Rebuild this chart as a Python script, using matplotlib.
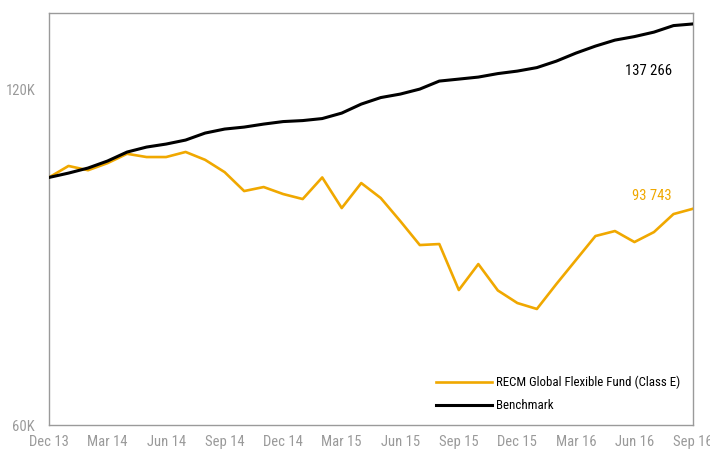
import matplotlib
matplotlib.use("Agg")
import matplotlib.pyplot as plt
from matplotlib import font_manager
from matplotlib.ticker import FixedLocator, NullLocator

# ---- data ----
months = ["Dec 13", "Jan 14", "Feb 14", "Mar 14", "Apr 14", "May 14", "Jun 14", "Jul 14",
          "Aug 14", "Sep 14", "Oct 14", "Nov 14", "Dec 14", "Jan 15", "Feb 15", "Mar 15",
          "Apr 15", "May 15", "Jun 15", "Jul 15", "Aug 15", "Sep 15", "Oct 15", "Nov 15",
          "Dec 15", "Jan 16", "Feb 16", "Mar 16", "Apr 16", "May 16", "Jun 16", "Jul 16",
          "Aug 16", "Sep 16"]
fund = [100000, 102400, 101500, 103000, 105000, 104300, 104300, 105400,
        103700, 101100, 97230, 98040, 96630, 95640, 100000, 93880,
        98850, 95840, 91390, 86980, 87160, 79270, 83630, 79200,
        77170, 76230, 80260, 84330, 88610, 89530, 87520, 89340,
        92720, 93743]
benchmark = [100000, 100900, 101960, 103450, 105380, 106470, 107130, 108020,
             109590, 110500, 110950, 111640, 112220, 112450, 112920, 114200,
             116340, 117920, 118770, 120000, 122000, 122500, 123010, 123900,
             124540, 125440, 127130, 129250, 131130, 132760, 133730, 134970,
             136800, 137266]
fund_name = "RECM Global Flexible Fund (Class E)"
bench_name = "Benchmark"
fund_end_label = "93 743"
bench_end_label = "137 266"
y_ticks = [60000, 120000]
y_tick_labels = ["60K", "120K"]

# ---- font ----
avail = {f.name for f in font_manager.fontManager.ttflist}
family = "DejaVu Sans"
for cand in ["Liberation Sans Narrow", "Roboto Condensed", "Open Sans Condensed", "Liberation Sans"]:
    if cand in avail:
        family = cand
        break
plt.rcParams["font.family"] = [family, "DejaVu Sans"]

GOLD = "#F0A800"
GREY = "#9a9a9a"

fig = plt.figure(figsize=(7.1, 4.5), dpi=100)
ax = fig.add_axes([49 / 710, 25 / 450, 644 / 710, 412 / 450])

x = list(range(len(months)))
ax.plot(x, fund, color=GOLD, lw=1.9, label=fund_name, zorder=3)
ax.plot(x, benchmark, color="black", lw=2.2, label=bench_name, zorder=4)

ax.set_yscale("log")
ax.set_ylim(60000, 140400)
ax.set_xlim(0, len(months) - 1)
ax.yaxis.set_major_locator(FixedLocator(y_ticks))
ax.yaxis.set_minor_locator(NullLocator())
ax.set_yticklabels(y_tick_labels)
ax.set_xticks(x[::3])
ax.set_xticklabels(months[::3])
ax.tick_params(axis="both", length=0, labelsize=10.5, labelcolor=GREY)
ax.tick_params(axis="x", pad=7)
ax.tick_params(axis="y", pad=10)

for s in ax.spines.values():
    s.set_color(GREY)
    s.set_linewidth(1.0)

ax.annotate(bench_end_label, xy=(x[-1], benchmark[-1]), xytext=(-21, -47),
            textcoords="offset pixels", ha="right", va="center", fontsize=10.5, color="black")
ax.annotate(fund_end_label, xy=(x[-1], fund[-1]), xytext=(-21, 13),
            textcoords="offset pixels", ha="right", va="center", fontsize=10.5, color=GOLD)

leg = ax.legend(loc="lower right", frameon=False, fontsize=9.3, handlelength=4.3,
                handletextpad=0.3, labelspacing=0.75, borderaxespad=0.6)

fig.savefig("out.png", dpi=100)
